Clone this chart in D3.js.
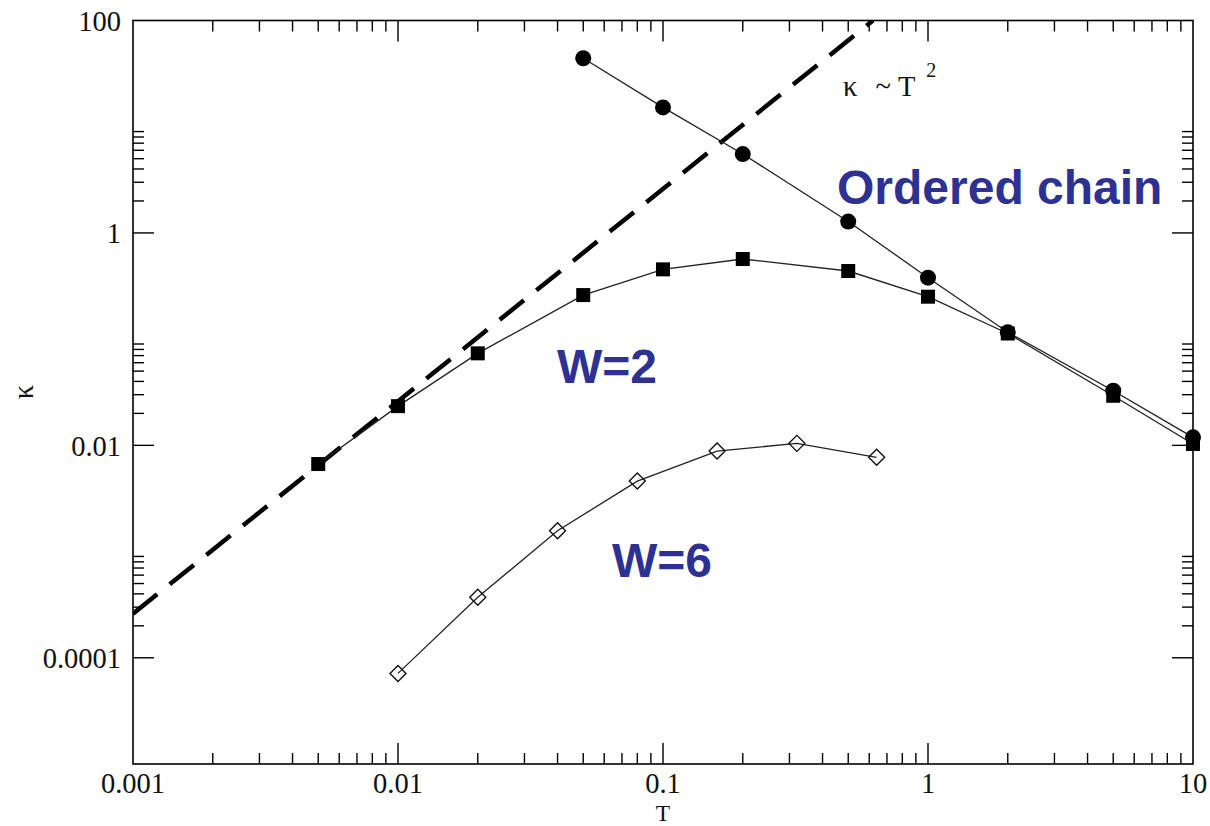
<!DOCTYPE html>
<html>
<head>
<meta charset="utf-8">
<script src="https://cdn.jsdelivr.net/npm/d3@7"></script>
<style>
  html, body { margin: 0; padding: 0; background: #fff; }
  svg { display: block; }
</style>
</head>
<body>
<svg id="chart" width="1210" height="826"></svg>
<script>
// Thermal conductivity κ versus temperature T (log–log)

// Ordered chain (filled circles)
const orderedT = [0.05, 0.1, 0.2, 0.5, 1, 2, 5, 10];
const orderedK = [44.1, 15.2, 5.53, 1.28, 0.379, 0.116, 0.0327, 0.0119];

// Disorder W=2 (filled squares)
const w2T = [0.005, 0.01, 0.02, 0.05, 0.1, 0.2, 0.5, 1, 2, 5, 10];
const w2K = [0.00667, 0.0234, 0.0735, 0.26, 0.454, 0.568, 0.438, 0.251, 0.113, 0.0293, 0.0103];

// Disorder W=6 (open diamonds)
const w6T = [0.01, 0.02, 0.04, 0.08, 0.16, 0.32, 0.64];
const w6K = [7.13e-5, 3.71e-4, 1.57e-3, 4.61e-3, 8.83e-3, 0.01044, 7.71e-3];

// Reference power law κ ~ T² (end points)
const refT = [0.001, 0.62];
const refK = [2.6e-4, 100];

// Axis ticks
const xMajor = [0.001, 0.01, 0.1, 1, 10];
const xLabels = ["0.001", "0.01", "0.1", "1", "10"];
const yMajor = [100, 1, 0.01, 0.0001];
const yLabels = ["100", "1", "0.01", "0.0001"];

const pLeft = 133, pRight = 1193, pTop = 20.5, pBottom = 764;
const svg = d3.select("#chart");

const x = d3.scaleLog().domain([0.001, 10]).range([pLeft, pRight]);
const y = d3.scaleLog().domain([1e-5, 100]).range([pBottom, pTop]);

// minor ticks: 2..9 times each decade (x) and each labelled major (y)
const xMinor = [];
xMajor.forEach(m => { for (let k = 2; k <= 9; k++) { const v = m * k; if (v < 10) xMinor.push(v); } });
const yMinor = [];
yMajor.forEach(m => { for (let k = 2; k <= 9; k++) { const v = m * k; if (v < 100) yMinor.push(v); } });

const serif = "'Liberation Serif', 'Times New Roman', serif";
const sans = "'Liberation Sans', Arial, Helvetica, sans-serif";

svg.append("defs").append("clipPath").attr("id", "plotClip")
  .append("rect").attr("x", pLeft).attr("y", pTop)
  .attr("width", pRight - pLeft).attr("height", pBottom - pTop);

const plot = svg.append("g").attr("clip-path", "url(#plotClip)");

// κ ~ T² dashed guide
const refLine = d3.line().x((d, i) => x(refT[i])).y((d, i) => y(refK[i]));
plot.append("path")
  .datum(refT)
  .attr("d", refLine)
  .attr("fill", "none")
  .attr("stroke", "#000")
  .attr("stroke-width", 4.5)
  .attr("stroke-dasharray", "31,16");

function series(T, K) {
  return T.map((t, i) => ({ t: t, k: K[i] }));
}
const line = d3.line().x(d => x(d.t)).y(d => y(d.k));

const sets = [
  { data: series(orderedT, orderedK), sym: "circle" },
  { data: series(w2T, w2K), sym: "square" },
  { data: series(w6T, w6K), sym: "diamond" }
];

sets.forEach(s => {
  plot.append("path").datum(s.data).attr("d", line)
    .attr("fill", "none").attr("stroke", "#222").attr("stroke-width", 1.3);
});

const markers = svg.append("g");
// circles
markers.selectAll("circle.oc").data(sets[0].data).join("circle")
  .attr("class", "oc")
  .attr("cx", d => x(d.t)).attr("cy", d => y(d.k)).attr("r", 8)
  .attr("fill", "#000");
// squares
markers.selectAll("rect.w2").data(sets[1].data).join("rect")
  .attr("class", "w2")
  .attr("x", d => x(d.t) - 7).attr("y", d => y(d.k) - 7)
  .attr("width", 14).attr("height", 14)
  .attr("fill", "#000");
// diamonds
markers.selectAll("path.w6").data(sets[2].data).join("path")
  .attr("class", "w6")
  .attr("d", d => {
    const cx = x(d.t), cy = y(d.k), r = 8;
    return `M${cx},${cy - r}L${cx + r},${cy}L${cx},${cy + r}L${cx - r},${cy}Z`;
  })
  .attr("fill", "none").attr("stroke", "#111").attr("stroke-width", 1.4);

// Frame
svg.append("rect")
  .attr("x", pLeft).attr("y", pTop).attr("width", pRight - pLeft).attr("height", pBottom - pTop)
  .attr("fill", "none").attr("stroke", "#000").attr("stroke-width", 1.6);

// Ticks on all four sides, pointing inward
const tk = svg.append("g").attr("stroke", "#000").attr("stroke-width", 1.4);
const majLen = 21, minLen = 11;
function xTicks(vals, len) {
  vals.forEach(v => {
    const px = x(v);
    tk.append("line").attr("x1", px).attr("x2", px).attr("y1", pBottom).attr("y2", pBottom - len);
    tk.append("line").attr("x1", px).attr("x2", px).attr("y1", pTop).attr("y2", pTop + len);
  });
}
function yTicks(vals, len) {
  vals.forEach(v => {
    const py = y(v);
    tk.append("line").attr("x1", pLeft).attr("x2", pLeft + len).attr("y1", py).attr("y2", py);
    tk.append("line").attr("x1", pRight).attr("x2", pRight - len).attr("y1", py).attr("y2", py);
  });
}
xTicks(xMajor.filter(v => v > 0.001 && v < 10), majLen);
xTicks(xMinor, minLen);
yTicks(yMajor.filter(v => v < 100), majLen);
yTicks(yMinor, minLen);

// Tick labels
const lab = svg.append("g").attr("font-family", serif).attr("font-size", 28.5).attr("fill", "#111");
xMajor.forEach((v, i) => {
  lab.append("text").attr("x", x(v)).attr("y", 793).attr("text-anchor", "middle").text(xLabels[i]);
});
yMajor.forEach((v, i) => {
  lab.append("text").attr("x", 121).attr("y", y(v) + 10.5).attr("text-anchor", "end").text(yLabels[i]);
});

// Axis titles
lab.append("text").attr("x", (pLeft + pRight) / 2).attr("y", 820.5)
  .attr("font-size", 23.5).attr("text-anchor", "middle").text("T");
lab.append("text").attr("transform", "translate(33,392) rotate(-90)")
  .attr("text-anchor", "middle").text("κ");

// Power-law annotation
const ann = svg.append("text").attr("font-family", serif).attr("font-size", 28.5).attr("fill", "#111")
  .attr("x", 843).attr("y", 96);
ann.append("tspan").text("κ");
ann.append("tspan").attr("dx", 18).text("~ T");
ann.append("tspan").attr("dx", 11).attr("dy", -19).attr("font-size", 20).text("2");

// Series labels
const blue = "#2e3192";
const sl = svg.append("g").attr("font-family", sans).attr("font-weight", "bold")
  .attr("font-size", 48).attr("fill", blue);
sl.append("text").attr("x", 837).attr("y", 204).text("Ordered chain");
sl.append("text").attr("x", 557).attr("y", 383).text("W=2");
sl.append("text").attr("x", 612).attr("y", 577).text("W=6");
</script>
</body>
</html>
